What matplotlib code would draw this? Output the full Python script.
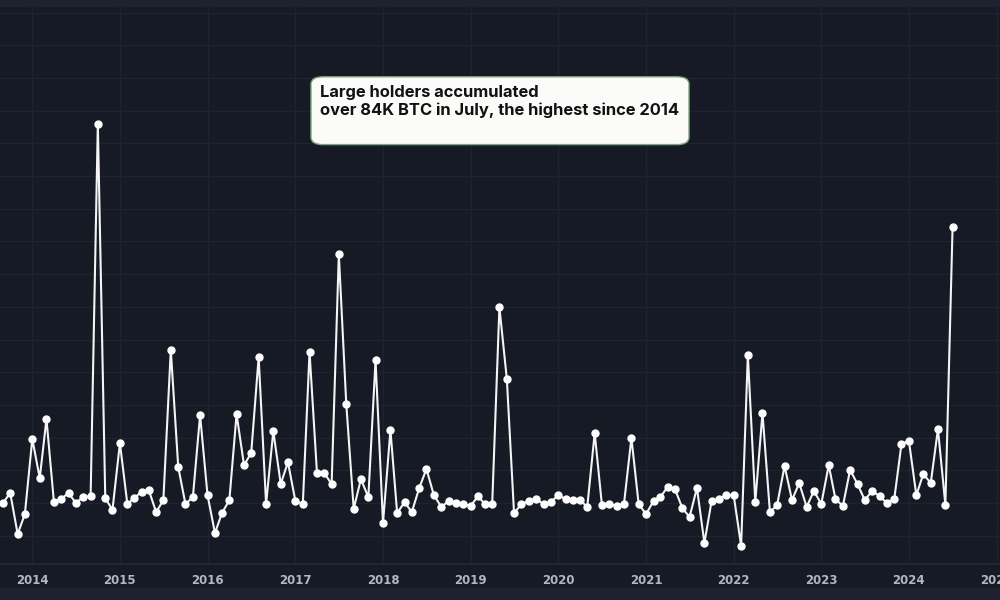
import matplotlib
matplotlib.use("Agg")
import matplotlib.pyplot as plt
import matplotlib.dates as mdates
from matplotlib.patches import FancyBboxPatch
import pandas as pd

# monthly net change in large-holder balances, thousand BTC (Aug 2013 .. Jul 2024)
start_month = "2013-08-01"
net_change_k = [
    0.0, 0.0, 3.1, -9.5, -3.4,                                          # 2013 Aug-Dec
    19.6, 7.6, 25.7, 0.3, 1.2, 3.1, 0.0, 1.8, 2.1, 115.9, 1.5, -2.1,    # 2014
    18.3, -0.3, 1.5, 3.4, 4.0, -2.8, 0.9, 46.8, 11.0, -0.3, 1.8, 26.9,  # 2015
    2.4, -9.2, -3.1, 0.9, 27.2, 11.6, 15.3, 44.6, -0.3, 22.0, 5.8, 12.5,  # 2016
    0.6, -0.3, 46.2, 9.2, 9.2, 5.8, 76.1, 30.3, -1.8, 7.3, 1.8, 43.7,   # 2017
    -6.1, 22.3, -3.1, 0.3, -2.8, 4.6, 10.4, 2.4, -1.2, 0.6, 0.0, -0.3,  # 2018
    -0.9, 2.1, -0.3, -0.3, 59.9, 37.9, -3.1, -0.3, 0.6, 1.2, -0.3, 0.3,  # 2019
    2.4, 1.2, 0.9, 0.9, -1.2, 21.4, -0.6, -0.3, -0.9, -0.3, 19.9, -0.3,  # 2020
    -3.4, 0.6, 1.8, 4.9, 4.3, -1.5, -4.3, 4.6, -12.2, 0.6, 1.2, 2.4,    # 2021
    2.4, -13.1, 45.3, 0.3, 27.5, -2.8, -0.6, 11.3, 0.9, 6.1, -1.2, 3.7,  # 2022
    -0.3, 11.6, 1.2, -0.9, 10.1, 5.8, 0.9, 3.7, 2.1, 0.0, 1.2, 18.0,    # 2023
    19.0, 2.4, 8.9, 6.1, 22.6, -0.6, 84.4,                              # 2024 Jan-Jul
]
year_ticks = list(range(2014, 2026))
note_text = "Large holders accumulated\nover 84K BTC in July, the highest since 2014"

bg = "#161a25"
strip = "#1e2230"
grid_c = "#1f2330"

months = pd.date_range(start_month, periods=len(net_change_k), freq="MS")

fig = plt.figure(figsize=(10, 6), dpi=100, facecolor=bg)
# thin lighter strips at the very top and bottom (cropped header / footer)
fig.patches.append(plt.Rectangle((0, 0), 1, 0.02, transform=fig.transFigure,
                                 color=strip, zorder=0))
fig.patches.append(plt.Rectangle((0, 0.99), 1, 0.01, transform=fig.transFigure,
                                 color=strip, zorder=0))

ax = fig.add_axes([0, 0.06, 1, 0.93])
ax.set_facecolor(bg)

ax.plot(months, net_change_k, color="#f4f4f4", lw=1.5, marker="o", ms=5,
        mec="white", mfc="white", zorder=3)

# x range: Jan 2014 sits ~32px from the left edge, ~7.3px per month
jan14 = mdates.date2num(pd.Timestamp("2014-01-01"))
day_px = 7.306 * 12 / 365.25
ax.set_xlim(jan14 - 32.3 / day_px, jan14 + (1000 - 32.3) / day_px)
ax.set_ylim(-18.65, 152.0)

ax.set_xticks([mdates.date2num(pd.Timestamp(f"{y}-01-01")) for y in year_ticks])
ax.set_xticklabels([str(y) for y in year_ticks])
ax.set_yticks(range(-10, 151, 10))
ax.tick_params(axis="x", length=0, pad=7, labelsize=8.5, labelcolor="#b3b6bf")
ax.tick_params(axis="y", length=0, labelleft=False)
for lab in ax.get_xticklabels():
    lab.set_fontweight("bold")

ax.grid(True, color=grid_c, lw=1)
ax.set_axisbelow(True)
for side in ["left", "right", "top"]:
    ax.spines[side].set_visible(False)
ax.spines["bottom"].set_color("#242838")
ax.spines["bottom"].set_linewidth(1.2)

# annotation card
box = FancyBboxPatch((0.311, 0.759), 0.378, 0.113,
                     boxstyle="round,pad=0,rounding_size=0.012",
                     transform=fig.transFigure, facecolor="#fbfcfa",
                     edgecolor="#7fa57a", lw=1.0, zorder=5)
fig.patches.append(box)
fig.text(0.320, 0.858, note_text, ha="left", va="top", fontsize=11.9,
         family=["Inter", "DejaVu Sans"], fontweight="bold",
         color="#111111", linespacing=1.2, zorder=6)

fig.savefig("out.png", dpi=100, facecolor=bg)
